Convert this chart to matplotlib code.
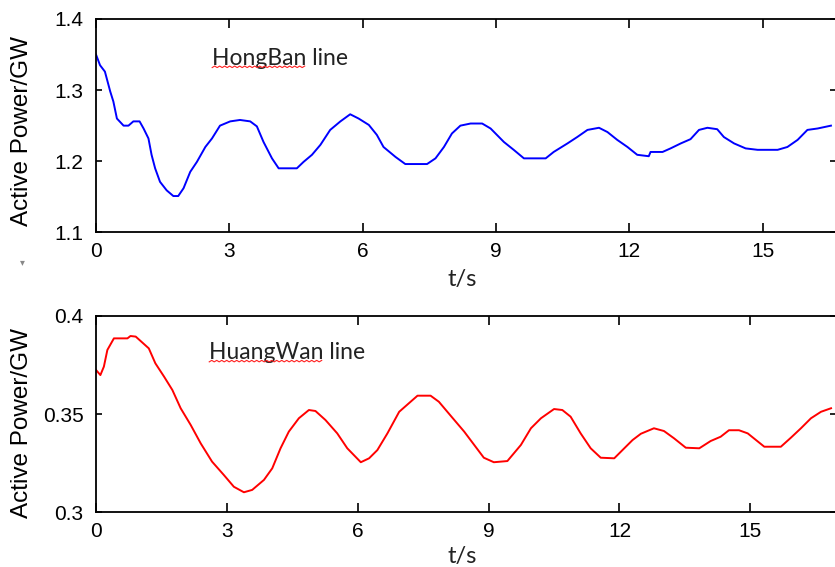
import matplotlib
matplotlib.use('Agg')
import matplotlib.pyplot as plt
from matplotlib.lines import Line2D
import numpy as np

# HongBan line, active power (GW) vs time (s)
t_hongban = [0, 0.09, 0.2, 0.32, 0.39, 0.47, 0.62, 0.73, 0.84, 0.98,
             1.07, 1.18, 1.25, 1.33, 1.44, 1.59, 1.74, 1.85, 1.97, 2.12,
             2.27, 2.46, 2.61, 2.79, 3.02, 3.24, 3.47, 3.62, 3.77, 3.96,
             4.11, 4.52, 4.67, 4.86, 5.05, 5.27, 5.50, 5.72, 5.91, 6.14,
             6.32, 6.47, 6.74, 6.96, 7.45, 7.64, 7.83, 8.01, 8.20, 8.43,
             8.69, 8.88, 9.18, 9.40, 9.63, 10.12, 10.30, 10.61, 10.83, 11.06,
             11.32, 11.51, 11.73, 11.96, 12.18, 12.44, 12.48, 12.75, 12.93, 13.16,
             13.38, 13.57, 13.76, 13.98, 14.13, 14.36, 14.62, 14.89, 15.34, 15.56,
             15.79, 16.01, 16.24, 16.54]
p_hongban = [1.350, 1.335, 1.326, 1.298, 1.284, 1.260, 1.250, 1.250, 1.256, 1.256,
             1.246, 1.232, 1.209, 1.190, 1.171, 1.159, 1.151, 1.151, 1.162, 1.185,
             1.199, 1.220, 1.232, 1.250, 1.256, 1.258, 1.256, 1.249, 1.227, 1.204,
             1.190, 1.190, 1.199, 1.209, 1.223, 1.244, 1.256, 1.266, 1.260, 1.251,
             1.237, 1.220, 1.206, 1.196, 1.196, 1.204, 1.220, 1.239, 1.250, 1.253,
             1.253, 1.246, 1.227, 1.216, 1.204, 1.204, 1.213, 1.225, 1.234, 1.244,
             1.247, 1.241, 1.230, 1.220, 1.209, 1.207, 1.213, 1.213, 1.218, 1.225,
             1.231, 1.244, 1.247, 1.245, 1.234, 1.225, 1.218, 1.216, 1.216, 1.220,
             1.230, 1.244, 1.246, 1.250]

# HuangWan line
t_huangwan = [0, 0.10, 0.18, 0.26, 0.41, 0.72, 0.79, 0.91, 1.21, 1.36,
              1.56, 1.75, 1.94, 2.17, 2.40, 2.66, 2.93, 3.16, 3.39, 3.58,
              3.85, 4.04, 4.23, 4.42, 4.65, 4.88, 5.03, 5.26, 5.53, 5.76,
              6.07, 6.26, 6.45, 6.68, 6.95, 7.17, 7.37, 7.67, 7.86, 8.13,
              8.44, 8.67, 8.89, 9.12, 9.43, 9.74, 9.97, 10.20, 10.50, 10.69,
              10.88, 11.11, 11.34, 11.57, 11.88, 12.11, 12.30, 12.49, 12.79, 13.02,
              13.25, 13.52, 13.83, 14.09, 14.32, 14.51, 14.74, 14.94, 15.13, 15.32,
              15.70, 15.93, 16.16, 16.39, 16.62, 16.85]
p_huangwan = [0.3725, 0.3699, 0.3742, 0.3827, 0.3886, 0.3886, 0.3898, 0.3895, 0.3835, 0.3759,
              0.3691, 0.3623, 0.3530, 0.3445, 0.3351, 0.3258, 0.3190, 0.3130, 0.3102, 0.3114,
              0.3165, 0.3224, 0.3326, 0.3411, 0.3479, 0.3521, 0.3516, 0.3470, 0.3402, 0.3326,
              0.3255, 0.3275, 0.3317, 0.3402, 0.3512, 0.3555, 0.3594, 0.3594, 0.3563, 0.3492,
              0.3411, 0.3343, 0.3278, 0.3255, 0.3261, 0.3343, 0.3428, 0.3479, 0.3526, 0.3521,
              0.3487, 0.3402, 0.3326, 0.3278, 0.3275, 0.3326, 0.3368, 0.3400, 0.3428, 0.3414,
              0.3377, 0.3329, 0.3326, 0.3363, 0.3385, 0.3418, 0.3418, 0.3402, 0.3368, 0.3334,
              0.3334, 0.3380, 0.3428, 0.3479, 0.3512, 0.3530]

x_ticks = [0, 3, 6, 9, 12, 15]
y_ticks_top = [1.1, 1.2, 1.3, 1.4]
y_ticks_bottom = [0.3, 0.35, 0.4]
y_labels_bottom = ['0.3', '0.35', '0.4']

tick_font = 'Liberation Sans'
note_font = 'Lato'

fig = plt.figure(figsize=(8.35, 5.67), dpi=100)
ax1 = fig.add_axes([0.115, 0.5903, 0.886, 0.3762])
ax2 = fig.add_axes([0.115, 0.0965, 0.886, 0.3462])


def style_axes(ax, label_y):
    for s in ax.spines.values():
        s.set_linewidth(1.3)
    ax.tick_params(axis='both', direction='in', top=True, right=True,
                   width=1.2, labelsize=15)
    ax.tick_params(axis='x', length=6.5, pad=7)
    ax.tick_params(axis='y', length=4.5, pad=9)
    for lab in ax.get_xticklabels() + ax.get_yticklabels():
        lab.set_fontfamily(tick_font)
    ax.set_ylabel('Active Power/GW', fontsize=17.5, family=tick_font, va='center')
    ax.yaxis.set_label_coords(-0.100, label_y)


ax1.plot(t_hongban, p_hongban, color='#0000ff', lw=1.4)
ax1.set_xlim(0, 16.65)
ax1.set_ylim(1.1, 1.4)
ax1.set_xticks(x_ticks)
ax1.set_yticks(y_ticks_top)
ax1.set_yticklabels([str(v) for v in y_ticks_top])
style_axes(ax1, 0.475)

ax2.plot(t_huangwan, p_huangwan, color='#ff0000', lw=1.4)
ax2.set_xlim(0, 16.96)
ax2.set_ylim(0.3, 0.4)
ax2.set_xticks(x_ticks)
ax2.set_yticks(y_ticks_bottom)
ax2.set_yticklabels(y_labels_bottom)
style_axes(ax2, 0.455)

# line names inside the panels
txt1 = ax1.text(0.157, 0.784, 'HongBan line', transform=ax1.transAxes,
                fontsize=16.5, family=note_font, color='#222222', va='baseline')
txt2 = ax2.text(0.153, 0.779, 'HuangWan line', transform=ax2.transAxes,
                fontsize=16.5, family=note_font, color='#222222', va='baseline')

fig.text(447 / 835, 1 - 286 / 567, 't/s', fontsize=17, family=note_font,
         color='#222222', va='baseline')
fig.text(447 / 835, 1 - 563 / 567, 't/s', fontsize=17, family=note_font,
         color='#222222', va='baseline')
fig.text(22 / 835, 1 - 262 / 567, '\u25be', fontsize=7, color='#888888',
         ha='center', va='center')

# red spell-check squiggle under the first word of each label
fig.canvas.draw()
r = fig.canvas.get_renderer()
for txt, word, ax in [(txt1, 'HongBan', ax1), (txt2, 'HuangWan', ax2)]:
    bb = txt.get_window_extent(r)
    tmp = ax.text(0, 0, word, fontsize=16.5, family=note_font)
    w = tmp.get_window_extent(r).width
    tmp.remove()
    xs = np.arange(bb.x0, bb.x0 + w, 2.5)
    ys = bb.y0 + 1.5 + 1.5 * (np.arange(len(xs)) % 2)
    fig.add_artist(Line2D(xs / fig.bbox.width, ys / fig.bbox.height,
                          color='#ff2020', lw=0.8))

plt.savefig('out.png', dpi=100)
